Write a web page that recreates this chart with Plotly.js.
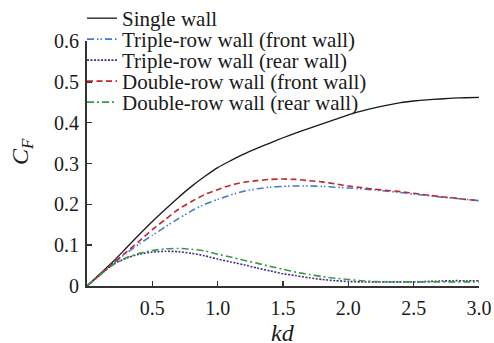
<!DOCTYPE html>
<html>
<head>
<meta charset="utf-8">
<script src="https://cdn.plot.ly/plotly-3.0.1.min.js"></script>
<style>
  html, body { margin: 0; padding: 0; background: #fff; }
  #chart { width: 494px; height: 343px; }
</style>
</head>
<body>
<div id="chart"></div>
<script>
// Non-dimensional wave frequency kd
const kd = [0, 0.1, 0.2, 0.3, 0.4, 0.5, 0.6, 0.7, 0.8, 0.9, 1.0,
            1.1, 1.2, 1.3, 1.4, 1.5, 1.6, 1.7, 1.8, 1.9, 2.0,
            2.1, 2.2, 2.3, 2.4, 2.5, 2.6, 2.7, 2.8, 2.9, 3.0];

// Horizontal force coefficient C_F for each wall configuration
const singleWall = [0, 0.030, 0.060, 0.093, 0.126, 0.158, 0.188, 0.217, 0.244, 0.268, 0.290,
                    0.307, 0.323, 0.337, 0.350, 0.363, 0.375, 0.386, 0.397, 0.408, 0.419,
                    0.428, 0.436, 0.443, 0.449, 0.453, 0.456, 0.458, 0.460, 0.461, 0.462];
const tripleFront = [0, 0.028, 0.055, 0.080, 0.103, 0.124, 0.145, 0.165, 0.184, 0.200, 0.212,
                     0.223, 0.232, 0.238, 0.242, 0.244, 0.245, 0.245, 0.244, 0.242, 0.240,
                     0.238, 0.235, 0.232, 0.229, 0.225, 0.222, 0.218, 0.215, 0.212, 0.209];
const tripleRear = [0, 0.027, 0.053, 0.068, 0.078, 0.083, 0.085, 0.084, 0.080, 0.074, 0.066,
                    0.059, 0.052, 0.044, 0.037, 0.030, 0.025, 0.020, 0.016, 0.013, 0.011,
                    0.010, 0.010, 0.010, 0.010, 0.010, 0.011, 0.012, 0.013, 0.013, 0.013];
const doubleFront = [0, 0.028, 0.056, 0.083, 0.110, 0.138, 0.163, 0.188, 0.207, 0.224, 0.236,
                     0.247, 0.254, 0.258, 0.261, 0.262, 0.261, 0.258, 0.255, 0.250, 0.245,
                     0.241, 0.237, 0.234, 0.231, 0.227, 0.223, 0.219, 0.216, 0.212, 0.209];
const doubleRear = [0, 0.027, 0.052, 0.069, 0.080, 0.087, 0.091, 0.092, 0.090, 0.086, 0.078,
                    0.071, 0.063, 0.056, 0.048, 0.041, 0.034, 0.028, 0.023, 0.019, 0.016,
                    0.013, 0.011, 0.010, 0.010, 0.010, 0.010, 0.010, 0.010, 0.010, 0.010];

const seriesNames = ["Single wall", "Triple-row wall (front wall)", "Triple-row wall (rear wall)",
                     "Double-row wall (front wall)", "Double-row wall (rear wall)"];

// Axis ticks
const xTickVals = [0.5, 1.0, 1.5, 2.0, 2.5, 3.0];
const xTickText = ["0.5", "1.0", "1.5", "2.0", "2.5", "3.0"];
const yTickVals = [0, 0.1, 0.2, 0.3, 0.4, 0.5, 0.6];
const yTickText = ["0", "0.1", "0.2", "0.3", "0.4", "0.5", "0.6"];

const W = 494, H = 343;
const M = { l: 87, r: 15, t: 41, b: 57 };
const PW = W - M.l - M.r, PH = H - M.t - M.b;
const FONT = "'Liberation Serif', 'Times New Roman', serif";

// pixel -> paper fractions
const px2x = px => (px - M.l) / PW;
const py2y = py => (H - M.b - py) / PH;

const styles = [
  { color: "#1a1a1a", dash: "solid", width: 1.3 },
  { color: "#3f7bd0", dash: "7px,3px,1.5px,2px,1.5px,3px", width: 1.6 },
  { color: "#4b2a8c", dash: "2px,1.5px", width: 1.6 },
  { color: "#c0262c", dash: "6px,3.5px", width: 1.6 },
  { color: "#3a9a44", dash: "7px,3px,2px,3px", width: 1.6 }
];
const values = [singleWall, tripleFront, tripleRear, doubleFront, doubleRear];
const legendIds = ["legend", "legend2", "legend3", "legend4", "legend5"];

const traces = values.map((v, i) => ({
  x: kd, y: v, type: "scatter", mode: "lines",
  name: seriesNames[i],
  legend: legendIds[i],
  line: { color: styles[i].color, dash: styles[i].dash, width: styles[i].width, shape: "spline", smoothing: 0.6 },
  hoverinfo: "skip"
}));

// One legend per row so the row spacing stays tight
const rowTop = [-2, 19, 40, 61, 82];
const layout = {
  width: W, height: H,
  margin: Object.assign({ autoexpand: false }, M),
  paper_bgcolor: "#fff", plot_bgcolor: "#fff",
  font: { family: FONT, color: "#1a1a1a", size: 20 },
  showlegend: true,
  xaxis: {
    range: [0, 3.0], showgrid: false, zeroline: false,
    showline: true, linecolor: "#333", linewidth: 2,
    ticks: "inside", ticklen: 5, tickwidth: 1.5, tickcolor: "#333",
    tickvals: xTickVals, ticktext: xTickText, tickangle: 0,
    ticklabelstandoff: 3,
    tickfont: { family: FONT, size: 20, color: "#1a1a1a" }
  },
  yaxis: {
    range: [0, 0.6], showgrid: false, zeroline: false,
    showline: true, linecolor: "#333", linewidth: 2,
    ticks: "inside", ticklen: 5, tickwidth: 1.5, tickcolor: "#333",
    tickvals: yTickVals, ticktext: yTickText,
    ticklabelstandoff: 2,
    tickfont: { family: FONT, size: 20, color: "#1a1a1a" }
  },
  annotations: [
    { text: "<i>kd</i>", xref: "paper", yref: "paper",
      x: 0.5, y: py2y(333), showarrow: false,
      font: { family: FONT, size: 24, color: "#1a1a1a" }, xanchor: "center", yanchor: "middle" },
    { text: "<i>C</i><sub><i>F</i></sub>", xref: "paper", yref: "paper", textangle: -90,
      x: px2x(22), y: py2y(152), showarrow: false,
      font: { family: FONT, size: 24, color: "#1a1a1a" }, xanchor: "center", yanchor: "middle" }
  ]
};

legendIds.forEach((id, i) => {
  layout[id] = {
    xref: "paper", yref: "paper",
    x: px2x(82), y: py2y(rowTop[i]), xanchor: "left", yanchor: "top",
    bgcolor: "rgba(0,0,0,0)", borderwidth: 0,
    font: { family: FONT, size: 21, color: "#1a1a1a" },
    itemwidth: 30
  };
});

Plotly.newPlot("chart", traces, layout, { staticPlot: true, displayModeBar: false });
</script>
</body>
</html>
